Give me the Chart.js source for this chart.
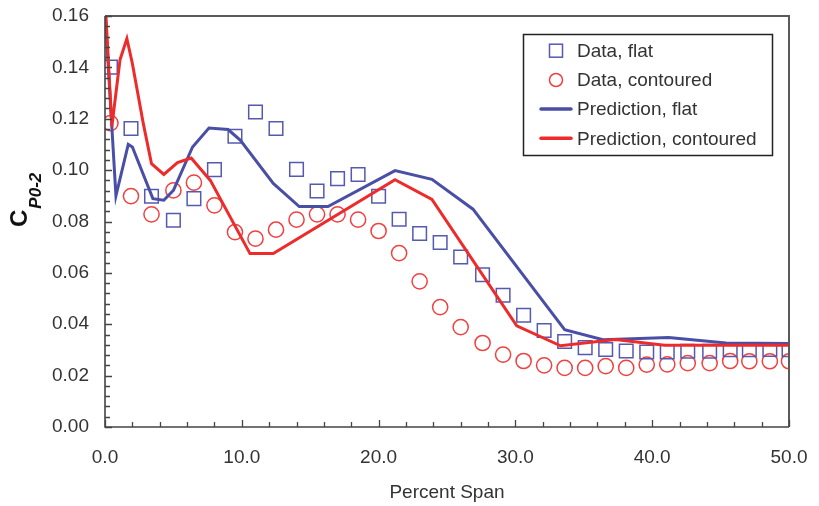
<!DOCTYPE html>
<html><head><meta charset="utf-8">
<script src="https://cdn.jsdelivr.net/npm/chart.js@4.4.1/dist/chart.umd.min.js"></script>
<style>html,body{margin:0;padding:0;background:#fff;}#wrap{width:819px;height:506px;position:relative;}</style>
</head><body><div id="wrap"><canvas id="c" width="819" height="506"></canvas></div>
<script>
// ---- data ----
const seriesNames = ['Data, flat', 'Data, contoured', 'Prediction, flat', 'Prediction, contoured'];
const spanData = [0.4, 1.9, 3.4, 5.0, 6.5, 8.0, 9.5, 11.0, 12.5, 14.0, 15.5, 17.0, 18.5, 20.0, 21.5, 23.0, 24.5,
  26.0, 27.6, 29.1, 30.6, 32.1, 33.6, 35.1, 36.6, 38.1, 39.6, 41.1, 42.6, 44.2, 45.7, 47.1, 48.6, 50.0];
const cpFlatData = [0.1401, 0.1162, 0.0898, 0.0805, 0.0889, 0.1002, 0.1132, 0.1226, 0.1162, 0.1003, 0.0919,
  0.0967, 0.0983, 0.0898, 0.0809, 0.0753, 0.0718, 0.0662, 0.0593, 0.0513, 0.0435, 0.0376, 0.0333, 0.0309,
  0.0302, 0.0296, 0.0292, 0.0292, 0.0295, 0.0295, 0.0301, 0.0301, 0.0302, 0.0301];
const cpContouredData = [0.1183, 0.0899, 0.0828, 0.0921, 0.0951, 0.0863, 0.0759, 0.0733, 0.0768, 0.0807,
  0.0828, 0.0828, 0.0807, 0.0763, 0.0677, 0.0567, 0.0467, 0.0389, 0.0327, 0.0282, 0.0257, 0.0240, 0.0230,
  0.0230, 0.0237, 0.0230, 0.0243, 0.0244, 0.0249, 0.0249, 0.0257, 0.0256, 0.0256, 0.0256];
const spanPredFlat = [0.0, 0.8, 1.7, 2.0, 3.5, 4.3, 5.0, 6.4, 7.6, 9.0, 9.9, 12.3, 14.2, 16.3, 21.2, 23.9, 26.9,
  33.6, 36.4, 41.2, 45.4, 50.0];
const cpPredFlat = [0.162, 0.090, 0.110, 0.109, 0.0889, 0.0883, 0.0921, 0.109, 0.1164, 0.1158, 0.1116, 0.0948,
  0.0858, 0.0858, 0.0998, 0.0964, 0.0848, 0.0379, 0.0340, 0.0348, 0.0327, 0.0325];
const spanPredContoured = [0.05, 0.5, 1.1, 1.6, 2.0, 2.8, 3.4, 4.3, 5.3, 6.3, 7.7, 10.6, 12.3, 21.2, 23.9, 30.1,
  33.3, 37.3, 40.9, 50.0];
const cpPredContoured = [0.162, 0.117, 0.143, 0.1512, 0.1415, 0.1181, 0.1025, 0.0983, 0.1029, 0.1047, 0.0960,
  0.0675, 0.0675, 0.0963, 0.0886, 0.0394, 0.0316, 0.0341, 0.0318, 0.0318];
const xTickValues = [0, 10, 20, 30, 40, 50];
const yTickValues = [0, 0.02, 0.04, 0.06, 0.08, 0.10, 0.12, 0.14, 0.16];
const xTitle = 'Percent Span';
const yTitleMain = 'C';
const yTitleSub = 'P0-2';

const BLUE = '#4a4fa6', RED = '#ee2b2b', BLUE_M = '#5559b0', RED_M = '#f04040';
const FONT = '"Liberation Sans", Arial, Helvetica, sans-serif';
const pts = (xs, ys) => xs.map((x, i) => ({x: x, y: ys[i]}));

const decor = {
  id: 'decor',
  afterDatasetsDraw(chart) {
    const ctx = chart.ctx, a = chart.chartArea, xs = chart.scales.x, ys = chart.scales.y;
    ctx.save();
    // frame
    ctx.strokeStyle = '#5a5a5a'; ctx.lineWidth = 2;
    ctx.beginPath();
    ctx.moveTo(a.left, a.top); ctx.lineTo(a.right, a.top); ctx.lineTo(a.right, a.bottom);
    ctx.stroke();
    ctx.strokeStyle = '#444'; ctx.lineWidth = 1.6;
    ctx.beginPath();
    ctx.moveTo(a.left, a.top); ctx.lineTo(a.left, a.bottom); ctx.lineTo(a.right, a.bottom);
    ctx.stroke();
    // inward ticks
    ctx.lineWidth = 1.3; ctx.strokeStyle = '#444';
    ctx.beginPath();
    for (let k = 0; k <= 40; k++) {
      const py = Math.round(ys.getPixelForValue(k * 0.004)) + 0.5;
      const len = (k % 5 === 0) ? 7 : 5;
      ctx.moveTo(a.left, py); ctx.lineTo(a.left + len, py);
    }
    for (let k = 0; k <= 25; k++) {
      const px = Math.round(xs.getPixelForValue(k * 2)) + 0.5;
      const len = (k % 5 === 0) ? 7 : 5;
      ctx.moveTo(px, a.bottom); ctx.lineTo(px, a.bottom - len);
    }
    ctx.stroke();
    ctx.restore();
  },
  afterDraw(chart) {
    const ctx = chart.ctx, a = chart.chartArea;
    ctx.save();
    // x title
    ctx.fillStyle = '#333'; ctx.font = '19px ' + FONT; ctx.textAlign = 'center'; ctx.textBaseline = 'middle';
    ctx.fillText(xTitle, 447, 493);
    // y title
    ctx.save();
    ctx.translate(27, 227); ctx.rotate(-Math.PI / 2);
    ctx.fillStyle = '#111'; ctx.textAlign = 'left'; ctx.textBaseline = 'alphabetic';
    ctx.font = 'bold 24px ' + FONT;
    ctx.fillText(yTitleMain, 0, 0);
    const w = ctx.measureText(yTitleMain).width;
    ctx.font = 'italic bold 17px ' + FONT;
    ctx.fillText(yTitleSub, w + 1, 14);
    ctx.restore();
    // legend
    const bx = 523.5, by = 34.5, bw = 249, bh = 121;
    ctx.fillStyle = '#fff'; ctx.fillRect(bx, by, bw, bh);
    ctx.strokeStyle = '#222'; ctx.lineWidth = 1.5; ctx.strokeRect(bx, by, bw, bh);
    const rows = [50.7, 80, 109, 138.3];
    const ds = chart.data.datasets;
    ctx.font = '19px ' + FONT; ctx.textAlign = 'left'; ctx.textBaseline = 'middle';
    for (let i = 0; i < 4; i++) {
      const cy = rows[i], d = ds[i];
      ctx.strokeStyle = d.borderColor;
      if (i === 0) { ctx.lineWidth = 1.5; ctx.strokeRect(549.5, cy - 6.5, 13, 13); }
      else if (i === 1) { ctx.lineWidth = 1.5; ctx.beginPath(); ctx.arc(556, cy, 6.5, 0, Math.PI * 2); ctx.stroke(); }
      else { ctx.lineWidth = 3.5; ctx.lineCap = 'round'; ctx.beginPath(); ctx.moveTo(541, cy); ctx.lineTo(571, cy); ctx.stroke(); }
      ctx.fillStyle = '#333';
      ctx.fillText(d.label, 577, cy + 1);
    }
    ctx.restore();
  }
};

new Chart(document.getElementById('c'), {
  type: 'scatter',
  data: {
    datasets: [
      {label: seriesNames[0], data: pts(spanData, cpFlatData), pointStyle: 'rect', pointRadius: 9.6,
       pointHoverRadius: 9.6, borderColor: BLUE_M, backgroundColor: 'rgba(0,0,0,0)', pointBorderWidth: 1.5, borderWidth: 1.5, showLine: false, order: 3},
      {label: seriesNames[1], data: pts(spanData, cpContouredData), pointStyle: 'circle', pointRadius: 7.6,
       pointHoverRadius: 7.6, borderColor: RED_M, backgroundColor: 'rgba(0,0,0,0)', pointBorderWidth: 1.5, borderWidth: 1.5, showLine: false, order: 4},
      {label: seriesNames[2], data: pts(spanPredFlat, cpPredFlat), showLine: true, pointRadius: 0, borderColor: BLUE,
       borderWidth: 3, tension: 0, fill: false, order: 2},
      {label: seriesNames[3], data: pts(spanPredContoured, cpPredContoured), showLine: true, pointRadius: 0, borderColor: RED,
       borderWidth: 3, tension: 0, fill: false, order: 1}
    ]
  },
  options: {
    responsive: false, animation: false, devicePixelRatio: 1,
    layout: {padding: {left: 0, right: 30, top: 16, bottom: 0}},
    plugins: {legend: {display: false}, tooltip: {enabled: false}},
    scales: {
      x: {type: 'linear', min: 0, max: 50,
        afterFit: s => { s.height = 79; s.paddingLeft = 0; s.paddingRight = 0; },
        afterBuildTicks: s => { s.ticks = xTickValues.map(v => ({value: v})); },
        grid: {display: false, drawTicks: false}, border: {display: false},
        ticks: {color: '#333', font: {family: FONT, size: 19}, padding: 19, maxRotation: 0, autoSkip: false,
          callback: v => Number(v).toFixed(1)}},
      y: {type: 'linear', min: 0, max: 0.16,
        afterFit: s => { s.width = 105; s.paddingTop = 0; s.paddingBottom = 0; },
        afterBuildTicks: s => { s.ticks = yTickValues.map(v => ({value: v})); },
        grid: {display: false, drawTicks: false}, border: {display: false},
        ticks: {color: '#333', font: {family: FONT, size: 19}, padding: 16, autoSkip: false,
          callback: v => Number(v).toFixed(2)}}
    }
  },
  plugins: [decor]
});
</script></body></html>
